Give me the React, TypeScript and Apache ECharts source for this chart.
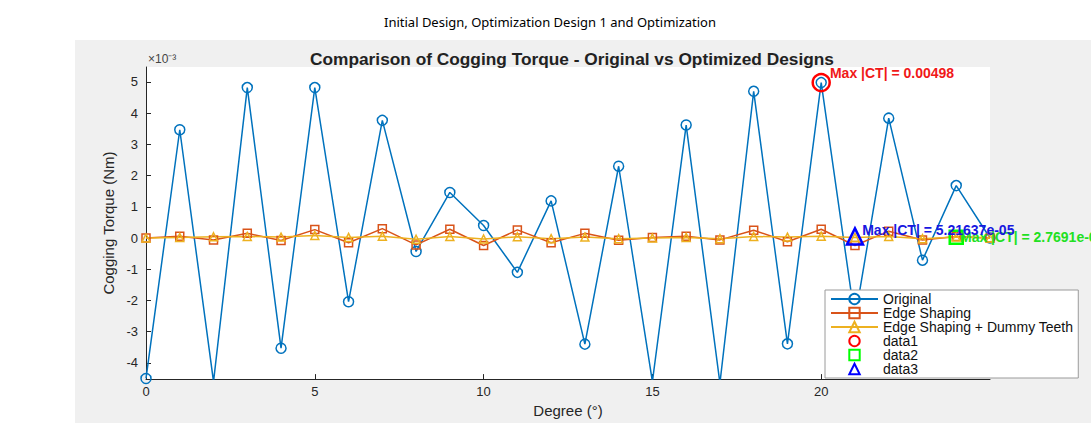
import React, { useEffect, useRef } from "react";
import * as echarts from "echarts";

// Degree positions (°)
const degrees = [0, 1, 2, 3, 4, 5, 6, 7, 8, 9, 10, 11, 12, 13, 14, 15, 16, 17, 18, 19, 20, 21, 22, 23, 24, 25];
// Cogging torque values in units of 1e-3 Nm
const original = [-4.5, 3.47, -4.6, 4.82, -3.53, 4.82, -2.04, 3.77, -0.43, 1.46, 0.4, -1.1, 1.19, -3.4, 2.3, -4.6, 3.62, -4.65, 4.7, -3.39, 4.98, -2.6, 3.84, -0.71, 1.68, 0.0];
const edgeShaping = [0.0, 0.06, -0.06, 0.15, -0.08, 0.27, -0.15, 0.3, -0.22, 0.28, -0.24, 0.26, -0.15, 0.15, -0.07, 0.02, 0.06, -0.06, 0.25, -0.12, 0.28, -0.24, 0.22, -0.06, 0.05, 0.0];
const dummyTeeth = [0.0, 0.02, 0.04, 0.05, 0.03, 0.08, 0.02, 0.06, -0.04, 0.05, -0.03, 0.04, -0.02, 0.03, -0.02, 0.0, 0.02, -0.02, 0.05, 0.03, 0.06, 0.02, 0.05, -0.02, 0.03, 0.0];
// Max markers [degree, value]
const data1Point = [[20, 4.98]];
const data2Point = [[24, 0.028]];
const data3Point = [[21, 0.052]];
const data1Label = "Max |CT| = 0.00498";
const data2Label = "Max |CT| = 2.7691e-05";
const data3Label = "Max |CT| = 5.21637e-05";
// Tick labels
const xTicks = [0, 5, 10, 15, 20];
const yTicks = [-4, -3, -2, -1, 0, 1, 2, 3, 4, 5];
const legendNames = ["Original", "Edge Shaping", "Edge Shaping + Dummy Teeth", "data1", "data2", "data3"];

const pairs = (ys: number[]) => degrees.map((d, i) => [d, ys[i]]);

const FONT = "'Liberation Sans', Arial, Helvetica, sans-serif";
const AX = "#262626";

export default function App() {
  const ref = useRef<HTMLDivElement>(null);
  useEffect(() => {
    document.body.style.margin = "0";
    const chart = echarts.init(ref.current!, null, { renderer: "svg" });
    const lineSeries = (name: string, ys: number[], color: string, symbol: string, size: number) => ({
      name,
      type: "line",
      data: pairs(ys),
      symbol,
      symbolSize: size,
      showAllSymbol: true,
      lineStyle: { color, width: 1.5 },
      itemStyle: { color: "rgba(0,0,0,0)", borderColor: color, borderWidth: 1.5 },
      emphasis: { disabled: true },
    });
    // single-point marker series (drawn as a line series without a visible line)
    const markerSeries = (name: string, pts: number[][], color: string, symbol: string, size: number, text: string, offset: number[], textColor: string) => ({
      name,
      type: "line",
      data: pts,
      symbol,
      symbolSize: size,
      showAllSymbol: true,
      lineStyle: { width: 0, opacity: 0, color },
      itemStyle: { color: "rgba(0,0,0,0)", borderColor: color, borderWidth: 2.5 },
      label: {
        show: true,
        position: "right",
        formatter: text,
        color: textColor,
        fontWeight: "bold",
        fontSize: 14,
        fontFamily: FONT,
        offset,
      },
      emphasis: { disabled: true },
      z: 5,
    });
    const hiddenLine = { width: 0, opacity: 0 };
    chart.setOption({
      animation: false,
      textStyle: { fontFamily: FONT },
      title: [
        {
          text: "Initial Design, Optimization Design 1 and Optimization",
          left: 545,
          top: 10,
          textAlign: "center",
          textStyle: { fontFamily: "'Noto Sans', sans-serif", fontSize: 13, fontWeight: "normal", color: "#000" },
        },
        {
          text: "Comparison of Cogging Torque - Original vs Optimized Designs",
          left: 567,
          top: 45,
          textAlign: "center",
          textStyle: { fontFamily: FONT, fontSize: 17.3, fontWeight: "bold", color: "#222" },
        },
      ],
      graphic: [
        { type: "text", left: 148, top: 53, style: { text: "×10⁻³", fontSize: 12, fill: "#444", fontFamily: FONT } },
      ],
      grid: { left: 146, right: 101, top: 67, bottom: 41, show: true, backgroundColor: "#fff", borderWidth: 0 },
      xAxis: {
        type: "value",
        min: 0,
        max: 25,
        interval: 5,
        name: "Degree (°)",
        nameLocation: "middle",
        nameGap: 22,
        nameTextStyle: { fontSize: 15, color: AX, fontFamily: FONT },
        axisLine: { onZero: false, lineStyle: { color: AX, width: 1 } },
        axisTick: { inside: true, length: 5, lineStyle: { color: AX }, customValues: xTicks },
        axisLabel: { fontSize: 13, color: AX, margin: 6, customValues: xTicks },
        splitLine: { show: false },
      },
      yAxis: {
        type: "value",
        min: -4.52,
        max: 5.48,
        name: "Cogging Torque (Nm)",
        nameLocation: "middle",
        nameGap: 30,
        nameTextStyle: { fontSize: 15, color: AX, fontFamily: FONT },
        axisLine: { show: true, onZero: false, lineStyle: { color: AX, width: 1 } },
        axisTick: { show: true, inside: true, length: 5, lineStyle: { color: AX }, customValues: yTicks },
        axisLabel: { fontSize: 13, color: AX, margin: 8, customValues: yTicks },
        splitLine: { show: false },
      },
      legend: {
        orient: "vertical",
        left: 825,
        top: 290,
        backgroundColor: "#fff",
        borderColor: "#9a9a9a",
        borderWidth: 1,
        padding: [2, 5, 2, 5],
        itemGap: 0,
        itemWidth: 47,
        itemHeight: 13,
        textStyle: { fontSize: 14, lineHeight: 13, color: "#111", fontFamily: FONT },
        data: [
          { name: legendNames[0] },
          { name: legendNames[1] },
          { name: legendNames[2] },
          { name: legendNames[3], lineStyle: hiddenLine },
          { name: legendNames[4], lineStyle: hiddenLine },
          { name: legendNames[5], lineStyle: hiddenLine },
        ],
      },
      series: [
        lineSeries(legendNames[0], original, "#0072BD", "circle", 10),
        lineSeries(legendNames[1], edgeShaping, "#D95319", "rect", 8),
        lineSeries(legendNames[2], dummyTeeth, "#EDB120", "triangle", 8),
        markerSeries(legendNames[3], data1Point, "#ff0000", "circle", 17, data1Label, [-6, -10], "#f01818"),
        markerSeries(legendNames[4], data2Point, "#00ff00", "rect", 13, data2Label, [-9, 0], "#22e022"),
        markerSeries(legendNames[5], data3Point, "#0000ff", "triangle", 16, data3Label, [-7, -6], "#1818e0"),
      ],
    });
    return () => chart.dispose();
  }, []);
  return (
    <div style={{ position: "fixed", left: 0, top: 0, width: 1091, height: 423, background: "#fff" }}>
      <div style={{ position: "absolute", left: 75, top: 40, width: 1016, height: 383, background: "#f0f0f0" }} />
      <div ref={ref} style={{ position: "absolute", left: 0, top: 0, width: 1091, height: 423 }} />
    </div>
  );
}
